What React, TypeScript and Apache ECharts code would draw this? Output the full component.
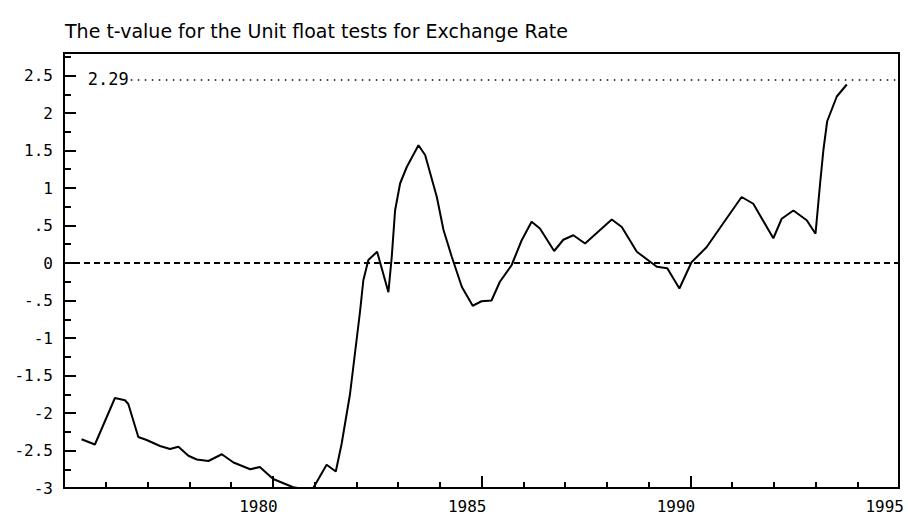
import React, { useEffect, useRef } from "react";
import * as echarts from "echarts";

const titleText = "The t-value for the Unit float tests for Exchange Rate";

const years: number[] = [
  1975.42, 1975.74, 1976.22, 1976.46, 1976.54, 1976.78, 1976.98, 1977.3, 1977.54, 1977.74,
  1977.98, 1978.18, 1978.46, 1978.78, 1979.06, 1979.46, 1979.69, 1980.01, 1980.49, 1980.6,
  1980.97, 1981.29, 1981.51, 1981.65, 1981.85, 1981.97, 1982.09, 1982.17, 1982.29, 1982.5,
  1982.77, 1982.85, 1982.93, 1983.05, 1983.21, 1983.49, 1983.65, 1983.93, 1984.09, 1984.29,
  1984.53, 1984.79, 1985.0, 1985.24, 1985.44, 1985.72, 1985.96, 1986.2, 1986.4, 1986.74,
  1986.96, 1987.2, 1987.48, 1987.84, 1988.12, 1988.36, 1988.72, 1989.2, 1989.45, 1989.74,
  1990.03, 1990.39, 1990.79, 1991.23, 1991.51, 1991.99, 1992.19, 1992.47, 1992.79, 1993.0,
  1993.11, 1993.19, 1993.28, 1993.51, 1993.75,
];

const tValues: number[] = [
  -2.35, -2.42, -1.8, -1.83, -1.88, -2.32, -2.36, -2.44, -2.48, -2.45,
  -2.57, -2.62, -2.64, -2.55, -2.66, -2.75, -2.72, -2.88, -2.99, -3.0,
  -3.0, -2.69, -2.78, -2.41, -1.75, -1.2, -0.65, -0.23, 0.04, 0.15,
  -0.39, 0.08, 0.7, 1.06, 1.28, 1.57, 1.44, 0.88, 0.44, 0.08,
  -0.32, -0.57, -0.51, -0.5, -0.25, -0.03, 0.3, 0.55, 0.46, 0.16,
  0.31, 0.37, 0.26, 0.44, 0.58, 0.48, 0.15, -0.05, -0.07, -0.34,
  0.01, 0.21, 0.53, 0.88, 0.79, 0.33, 0.59, 0.7, 0.57, 0.39,
  1.06, 1.51, 1.89, 2.22, 2.38,
];

const xRange = [1975, 1995];
const yRange = [-3, 2.8];
const criticalLabel = "2.29";
const criticalLevel = 2.45;
const criticalStartYear = 1976.6;

const monoFont = "'DejaVu Sans Mono', monospace";

function fmtY(v: number): string {
  if (Math.abs(v - Math.round(v * 2) / 2) > 1e-6) return "";
  if (v === 0) return "0";
  let s = String(v);
  s = s.replace(/^0\./, ".").replace(/^-0\./, "-.");
  return s;
}

export default function App() {
  const ref = useRef<HTMLDivElement>(null);
  useEffect(() => {
    if (!ref.current) return;
    const chart = echarts.init(ref.current, undefined, { renderer: "svg" });
    const data = years.map((y, i) => [y, tValues[i]]);
    chart.setOption({
      animation: false,
      backgroundColor: "#fff",
      title: {
        text: titleText,
        left: 60,
        top: 16,
        textStyle: {
          fontFamily: "'DejaVu Sans', sans-serif",
          fontSize: 19,
          fontWeight: "normal",
          color: "#000",
        },
      },
      grid: {
        left: 64,
        right: 9,
        top: 53,
        bottom: 31,
        show: true,
        borderColor: "#000",
        borderWidth: 2,
        backgroundColor: "transparent",
      },
      xAxis: {
        type: "value",
        min: xRange[0],
        max: xRange[1],
        interval: 5,
        axisLine: { show: true, onZero: false, lineStyle: { color: "#000", width: 2 } },
        axisTick: { show: true, inside: true, length: 12, lineStyle: { color: "#000", width: 2 } },
        minorTick: { show: true, splitNumber: 5, length: 6, lineStyle: { color: "#000", width: 2 } },
        splitLine: { show: false },
        axisLabel: {
          showMinLabel: false,
          align: "right",
          padding: [0, -5, 0, 0],
          margin: 10,
          fontFamily: monoFont,
          fontSize: 16,
          color: "#000",
          formatter: (v: number) => String(Math.round(v)),
        },
      },
      yAxis: {
        type: "value",
        min: yRange[0],
        max: yRange[1],
        interval: 0.5,
        axisLine: { show: true, onZero: false, lineStyle: { color: "#000", width: 2 } },
        axisTick: { show: true, inside: true, length: 12, lineStyle: { color: "#000", width: 2 } },
        minorTick: { show: true, splitNumber: 2, length: 7, lineStyle: { color: "#000", width: 2 } },
        splitLine: { show: false },
        axisLabel: {
          showMaxLabel: false,
          margin: 11,
          fontFamily: monoFont,
          fontSize: 16,
          color: "#000",
          formatter: (v: number) => fmtY(v),
        },
      },
      series: [
        {
          type: "line",
          data,
          showSymbol: false,
          symbol: "none",
          clip: true,
          lineStyle: { color: "#000", width: 2 },
          markLine: {
            silent: true,
            symbol: ["none", "none"],
            animation: false,
            data: [
              {
                yAxis: 0,
                label: { show: false },
                lineStyle: { color: "#000", width: 2, type: [6, 4] },
              },
              [
                {
                  coord: [criticalStartYear, criticalLevel],
                  label: {
                    show: true,
                    position: "start",
                    distance: 2,
                    formatter: criticalLabel,
                    fontFamily: monoFont,
                    fontSize: 17,
                    color: "#000",
                  },
                  lineStyle: { color: "#000", width: 1.5, type: [1.5, 5.5] },
                },
                { coord: [xRange[1], criticalLevel] },
              ],
            ],
          },
        },
      ],
    });
    return () => chart.dispose();
  }, []);
  return (
    <div
      ref={ref}
      style={{ position: "fixed", left: 0, top: 0, width: 908, height: 519, background: "#fff" }}
    />
  );
}
